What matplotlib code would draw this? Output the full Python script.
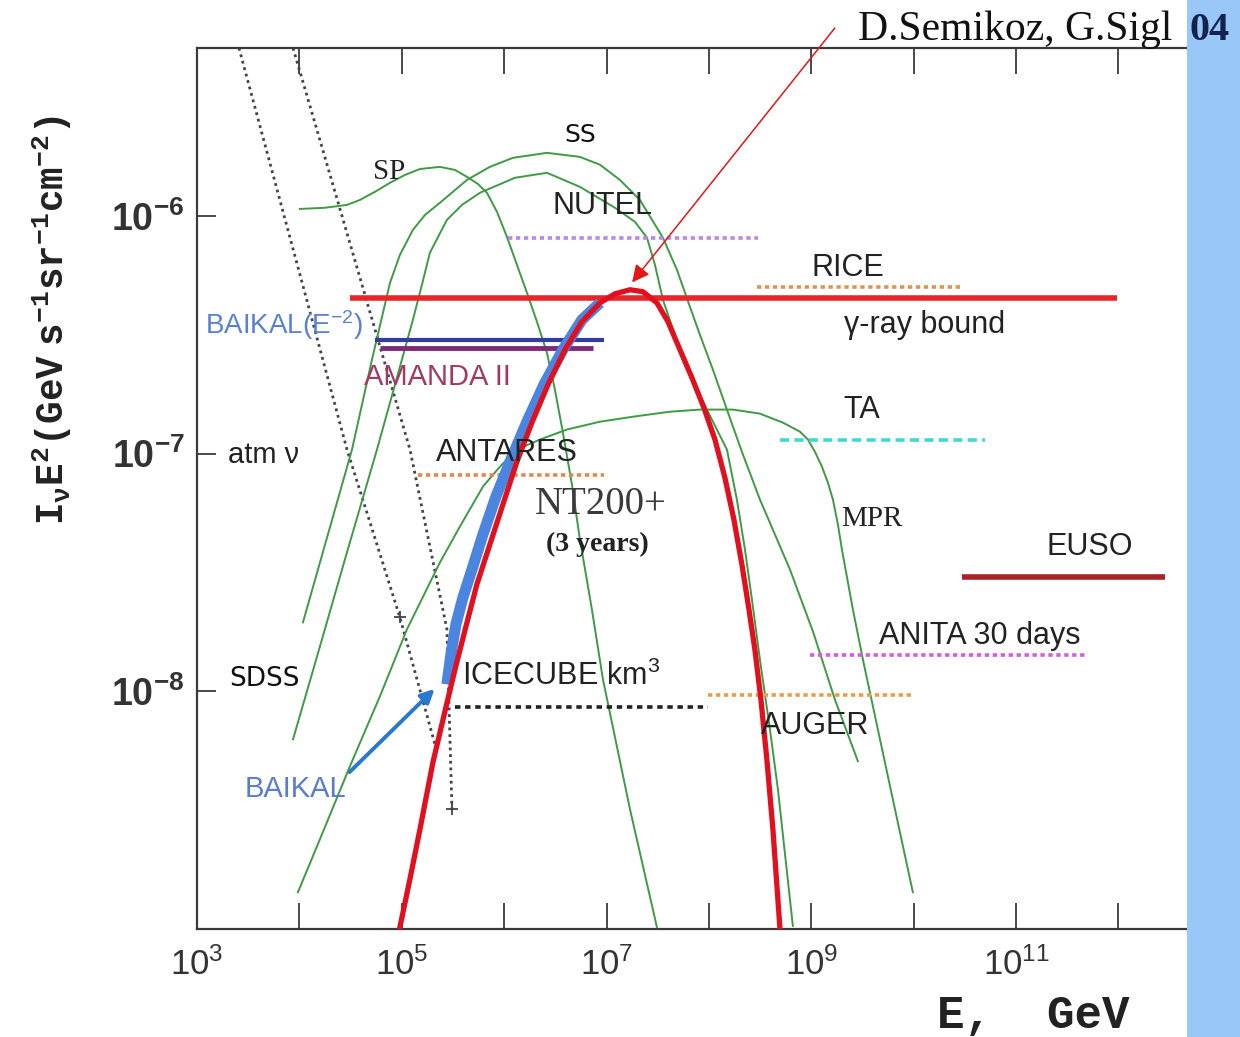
import numpy as np
import matplotlib
matplotlib.use("Agg")
import matplotlib.pyplot as plt
from matplotlib.patches import Rectangle
from matplotlib.ticker import NullLocator, FixedLocator

plt.rcParams['mathtext.fontset'] = 'custom'
plt.rcParams['mathtext.rm'] = 'Liberation Sans'
plt.rcParams['mathtext.it'] = 'Liberation Sans:italic'
plt.rcParams['mathtext.bf'] = 'Liberation Sans:bold'
plt.rcParams['mathtext.tt'] = 'Liberation Mono:bold'
plt.rcParams['font.family'] = ['Liberation Sans', 'DejaVu Sans']

# ---------------- data (log10 E [GeV], log10 flux) ----------------
sp_logE = [4.006, 4.250, 4.465, 4.592, 4.738, 4.885, 5.031, 5.178, 5.373, 5.520, 5.637, 5.744,
           5.832, 5.930, 6.027, 6.125, 6.223, 6.320, 6.418, 6.496, 6.574, 6.662, 6.740, 6.857,
           6.965, 7.229, 7.492]
sp_logF = [-5.971, -5.966, -5.954, -5.933, -5.899, -5.861, -5.828, -5.803, -5.794, -5.807, -5.836,
           -5.866, -5.903, -5.983, -6.088, -6.206, -6.324, -6.445, -6.576, -6.731, -6.912, -7.130,
           -7.361, -7.655, -7.950, -8.496, -8.992]

ss_logE = [4.035, 4.279, 4.514, 4.709, 4.885, 4.982, 5.109, 5.227, 5.373, 5.637, 5.861, 6.086,
           6.418, 6.740, 6.936, 7.131, 7.326, 7.551, 7.688, 7.814, 7.912, 8.039, 8.176, 8.322,
           8.498, 8.791, 9.016, 9.230, 9.455]
ss_logF = [-7.710, -7.340, -6.983, -6.605, -6.282, -6.164, -6.059, -5.996, -5.945, -5.849, -5.794,
           -5.756, -5.735, -5.752, -5.785, -5.849, -5.933, -6.092, -6.227, -6.382, -6.500, -6.647,
           -6.815, -6.992, -7.193, -7.487, -7.748, -8.034, -8.294]

b_logE = [3.938, 4.201, 4.445, 4.758, 4.934, 5.109, 5.197, 5.275, 5.441, 5.588, 5.764, 6.105,
          6.418, 6.740, 7.082, 7.277, 7.395, 7.473, 7.551, 7.668, 7.766, 7.883, 7.980, 8.078,
          8.176, 8.273, 8.352, 8.420, 8.498, 8.596, 8.674, 8.820]
b_logF = [-8.202, -7.811, -7.445, -6.983, -6.710, -6.437, -6.290, -6.155, -6.017, -5.954, -5.903,
          -5.840, -5.819, -5.878, -5.966, -6.025, -6.092, -6.206, -6.353, -6.500, -6.626, -6.731,
          -6.815, -6.899, -6.983, -7.193, -7.403, -7.613, -7.866, -8.160, -8.412, -8.987]

mpr_logE = [3.986, 4.250, 4.494, 4.787, 5.051, 5.373, 5.568, 5.793, 5.959, 6.125, 6.350, 6.613,
            6.936, 7.258, 7.619, 7.912, 8.234, 8.498, 8.723, 8.889, 8.967, 9.035, 9.104, 9.162,
            9.211, 9.260, 9.299, 9.406, 9.504, 9.748, 9.992]
mpr_logF = [-8.845, -8.571, -8.315, -8.021, -7.739, -7.458, -7.307, -7.139, -7.055, -6.983, -6.941,
            -6.899, -6.866, -6.845, -6.824, -6.815, -6.815, -6.832, -6.870, -6.908, -6.941, -6.992,
            -7.055, -7.122, -7.193, -7.298, -7.403, -7.655, -7.866, -8.357, -8.845]

nt_logE = [4.982, 5.080, 5.178, 5.305, 5.422, 5.520, 5.627, 5.734, 5.861, 5.988, 6.125, 6.271,
           6.428, 6.594, 6.760, 6.936, 7.082, 7.229, 7.355, 7.492, 7.600, 7.717, 7.834, 7.951,
           8.059, 8.156, 8.244, 8.322, 8.391, 8.449, 8.508, 8.566, 8.625, 8.693]
nt_logF = [-8.992, -8.790, -8.580, -8.298, -8.084, -7.908, -7.727, -7.550, -7.382, -7.214, -7.034,
           -6.870, -6.710, -6.563, -6.445, -6.366, -6.328, -6.311, -6.319, -6.366, -6.445, -6.563,
           -6.681, -6.807, -6.941, -7.101, -7.277, -7.466, -7.655, -7.824, -8.034, -8.286, -8.580,
           -8.992]

blue_logE = [5.441, 5.480, 5.529, 5.598, 5.686, 5.793, 5.920, 6.066, 6.223, 6.389, 6.574, 6.760,
             6.936]
blue_logF = [-7.971, -7.845, -7.718, -7.605, -7.487, -7.340, -7.181, -7.025, -6.866, -6.710,
             -6.563, -6.437, -6.366]

atm_lo_logE = [3.410, 4.465, 4.982, 5.324]
atm_lo_logF = [-5.294, -6.983, -7.689, -8.223]
atm_hi_logE = [3.938, 4.172, 5.080, 5.441, 5.490]
atm_hi_logF = [-5.294, -5.639, -6.983, -7.739, -8.496]

lim_names = ['NUTEL', 'RICE', 'gamma', 'BAIKAL2', 'AMANDA', 'TA', 'ANTARES', 'EUSO',
             'ANITA', 'AUGER', 'ICECUBE']
lim_logE_lo = [6.04, 8.47, 4.49, 4.74, 4.79, 8.69, 5.16, 10.47, 8.99, 7.99, 5.52]
lim_logE_hi = [8.48, 10.47, 11.99, 6.98, 6.87, 10.70, 6.98, 12.45, 11.69, 9.98, 7.99]
lim_logF = [-6.092, -6.300, -6.345, -6.521, -6.555, -6.941, -7.092, -7.521, -7.849, -8.017, -8.067]

baikal_arrow_logE = [4.49, 5.32]
baikal_arrow_logF = [-8.34, -7.99]
pointer_logE = [9.23, 7.25]
pointer_logF = [-5.21, -6.28]

x_tick_exp = list(range(3, 13))
y_tick_exp = [-8, -7, -6]

# ---------------- figure ----------------
W, H = 1240, 1037
fig = plt.figure(figsize=(W / 100, H / 100), dpi=100)
fig.patch.set_facecolor('white')
fig.patches.append(Rectangle((1187 / W, 0), 53 / W, 1, transform=fig.transFigure,
                             facecolor='#99c8f8', edgecolor='none', zorder=0))

ax = fig.add_axes([197 / W, 1 - 929 / H, 989 / W, (929 - 48) / H])
ax.set_xscale('log')
ax.set_yscale('log')
ax.set_xlim(1e3, 10 ** 12.66)
ax.set_ylim(1e-9, 10 ** -5.294)
ax.patch.set_alpha(0)


def P(le, lf):
    return 10 ** np.asarray(le, float), 10 ** np.asarray(lf, float)


green = '#3f9a46'
for le, lf in [(sp_logE, sp_logF), (ss_logE, ss_logF), (b_logE, b_logF), (mpr_logE, mpr_logF)]:
    ax.plot(*P(le, lf), color=green, lw=1.4, zorder=3, solid_joinstyle='round')

# atm nu band
for le, lf in [(atm_lo_logE, atm_lo_logF), (atm_hi_logE, atm_hi_logF)]:
    ax.plot(*P(le, lf), color='#444444', lw=2.0, ls=(0, (1, 1.4)), zorder=2)
ax.plot(*P([atm_lo_logE[2], atm_hi_logE[-1]], [atm_lo_logF[2], atm_hi_logF[-1]]),
        ls='none', marker='+', ms=9, mew=1.3, color='#444444', zorder=2)

# horizontal limits
styles = {
    'NUTEL': dict(color='#b58ae0', lw=2.6, ls=(0, (1.2, 1.0))),
    'RICE': dict(color='#d6965a', lw=2.6, ls=(0, (1.2, 1.0))),
    'gamma': dict(color='#e8262a', lw=4.0, ls='-'),
    'BAIKAL2': dict(color='#333b9c', lw=3.0, ls='-'),
    'AMANDA': dict(color='#7a2a78', lw=3.5, ls='-'),
    'TA': dict(color='#3fd6d6', lw=2.6, ls=(0, (2.5, 1.5))),
    'ANTARES': dict(color='#e0884e', lw=2.6, ls=(0, (1.2, 1.0))),
    'EUSO': dict(color='#a8222a', lw=4.0, ls='-'),
    'ANITA': dict(color='#d060d8', lw=2.6, ls=(0, (1.2, 1.0))),
    'AUGER': dict(color='#e0a050', lw=2.6, ls=(0, (1.2, 1.0))),
    'ICECUBE': dict(color='#222222', lw=2.6, ls=(0, (1.5, 1.3))),
}
for name, lo, hi, f in zip(lim_names, lim_logE_lo, lim_logE_hi, lim_logF):
    ax.plot(*P([lo, hi], [f, f]), zorder=4, solid_capstyle='butt', **styles[name])

# NT200+
ax.plot(*P(blue_logE, blue_logF), color='#4a86e0', lw=8, zorder=5, solid_capstyle='butt',
        solid_joinstyle='round')
ax.plot(*P(nt_logE, nt_logF), color='#e0101e', lw=3.8, zorder=6, solid_joinstyle='round')

# BAIKAL arrow
bx, by = P(baikal_arrow_logE, baikal_arrow_logF)
ax.annotate('', xy=(bx[1], by[1]), xytext=(bx[0], by[0]),
            arrowprops=dict(arrowstyle='-|>', color='#2a78cc', lw=2.8, mutation_scale=20,
                            shrinkA=0, shrinkB=0), zorder=6)
# pointer arrow
px, py = P(pointer_logE, pointer_logF)
ax.annotate('', xy=(px[1], py[1]), xytext=(px[0], py[0]), annotation_clip=False,
            arrowprops=dict(arrowstyle='-|>', color='#e01818', lw=1.1, mutation_scale=26,
                            shrinkA=0, shrinkB=0), zorder=7)

# ---------------- axes styling ----------------
for s in ['left', 'bottom', 'top']:
    ax.spines[s].set_color('#3a3a3a')
    ax.spines[s].set_linewidth(1.6)
ax.spines['right'].set_visible(False)

ax.xaxis.set_major_locator(FixedLocator([10.0 ** k for k in x_tick_exp]))
ax.xaxis.set_minor_locator(NullLocator())
ax.set_xticklabels([r'$10^{%d}$' % k if k % 2 == 1 else '' for k in x_tick_exp])
ax.yaxis.set_major_locator(FixedLocator([10.0 ** k for k in y_tick_exp]))
ax.yaxis.set_minor_locator(NullLocator())
ax.set_yticklabels([r'$\mathbf{10^{%d}}$' % k for k in y_tick_exp])
ax.tick_params(axis='x', direction='in', length=19, width=1.3, color='#3a3a3a', top=True,
               labelsize=25, labelcolor='#333333', pad=13)
ax.tick_params(axis='y', direction='in', length=14, width=1.3, color='#3a3a3a',
               labelsize=27, labelcolor='#333333', pad=9)

fig.text(52 / W, 1 - 320 / H, r'$\mathtt{I_{\nu}E^{2}(GeV\ s^{-1}sr^{-1}cm^{-2})}$',
         rotation=90, ha='center', va='center', fontsize=27, color='#222222')
fig.text(1033 / W, 1 - 1016 / H, 'E,  GeV', family='Liberation Mono', weight='bold',
         fontsize=33, ha='center', va='center', color='#222222')
fig.text(1015 / W, 1 - 30 / H, 'D.Semikoz, G.Sigl', family='Liberation Serif', fontsize=30,
         ha='center', va='center', color='#111111')
fig.text(1210 / W, 1 - 30 / H, '04', family='Liberation Serif', weight='bold', fontsize=29,
         ha='center', va='center', color='#14224e')

# ---------------- labels ----------------
def T(le, lf, s, **kw):
    kw.setdefault('ha', 'center')
    kw.setdefault('va', 'center')
    kw.setdefault('color', '#222222')
    ax.text(10 ** le, 10 ** lf, s, zorder=8, **kw)

sans = dict(family='Liberation Sans', fontsize=22)
T(4.88, -5.815, 'SP', family='Liberation Serif', fontsize=21)
T(6.74, -5.66, 'SS', family='DejaVu Sans', fontsize=18, color='#111111')
T(6.96, -5.958, 'NUTEL', **sans)
T(9.36, -6.218, 'RICE', **sans)
T(10.11, -6.458, 'γ-ray bound', **sans)
T(3.08, -6.458, r'BAIKAL(E$^{-2}$)', ha='left', family='Liberation Sans', fontsize=20,
  color='#5a80d0')
T(5.35, -6.676, 'AMANDA II', family='Liberation Sans', fontsize=21, color='#a03a62')
T(9.49, -6.815, 'TA', **sans)
T(3.30, -7.004, 'atm ν', ha='left', family='Liberation Sans', fontsize=21)
T(6.03, -6.996, 'ANTARES', **sans)
T(6.94, -7.214, 'NT200+', family='Liberation Serif', fontsize=28, color='#3a3a3a')
T(6.91, -7.382, '(3 years)', family='Liberation Serif', weight='bold', fontsize=20,
  color='#222222')
T(9.59, -7.277, 'MPR', family='Liberation Serif', fontsize=21)
T(11.72, -7.395, 'EUSO', **sans)
T(10.65, -7.769, 'ANITA 30 days', **sans)
T(3.66, -7.95, 'SDSS', family='DejaVu Sans', fontsize=19, color='#111111')
T(5.59, -7.937, r'ICECUBE km$^{3}$', ha='left', **sans)
T(9.04, -8.147, 'AUGER', **sans)
T(3.96, -8.41, 'BAIKAL', family='Liberation Sans', fontsize=21, color='#5a7ccc')

fig.savefig('out.png', dpi=100)
